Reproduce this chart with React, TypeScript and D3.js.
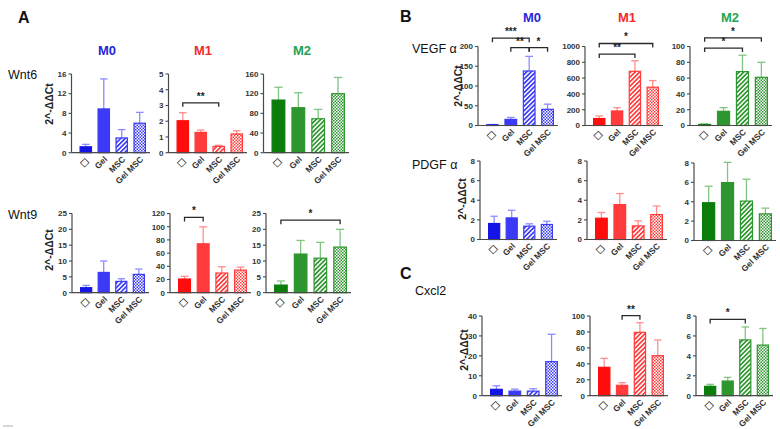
import React from "react";
import * as d3 from "d3";

const categories = ["□", "Gel", "MSC", "Gel MSC"];
const groupNames = ["M0", "M1", "M2"];

// Wnt6
const wnt6M0 = [1.2, 8.9, 3.0, 6.0];
const wnt6M0Err = [1.7, 15.0, 4.7, 8.2];
const wnt6M0Ticks = [0, 4, 8, 12, 16];
const wnt6M1 = [2.03, 1.29, 0.4, 1.19];
const wnt6M1Err = [2.54, 1.44, 0.47, 1.4];
const wnt6M1Ticks = [0, 1, 2, 3, 4, 5];
const wnt6M2 = [107, 91.5, 69, 120];
const wnt6M2Err = [133, 122, 88, 153];
const wnt6M2Ticks = [0, 40, 80, 120, 160];

// Wnt9
const wnt9M0 = [1.58, 6.4, 3.57, 5.78];
const wnt9M0Err = [2.3, 10.0, 4.4, 7.46];
const wnt9M0Ticks = [0, 5, 10, 15, 20, 25];
const wnt9M1 = [20.7, 74.1, 29.8, 34.3];
const wnt9M1Err = [24.7, 99.8, 39.3, 38.8];
const wnt9M1Ticks = [0, 20, 40, 60, 80, 100, 120];
const wnt9M2 = [2.4, 12.2, 10.9, 14.4];
const wnt9M2Err = [3.7, 16.5, 15.9, 20.0];
const wnt9M2Ticks = [0, 5, 10, 15, 20, 25];

// VEGF alpha
const vegfM0 = [1.7, 15.4, 138, 41];
const vegfM0Err = [2.5, 20.5, 175, 54];
const vegfM0Ticks = [0, 50, 100, 150, 200];
const vegfM1 = [88, 184, 686, 485];
const vegfM1Err = [121, 226, 820, 569];
const vegfM1Ticks = [0, 200, 400, 600, 800, 1000];
const vegfM2 = [1.3, 18, 68.2, 61];
const vegfM2Err = [2, 22.6, 89, 80];
const vegfM2Ticks = [0, 20, 40, 60, 80, 100];

// PDGF alpha
const pdgfM0 = [1.63, 2.2, 1.36, 1.53];
const pdgfM0Err = [2.37, 2.98, 1.6, 1.86];
const pdgfM1 = [2.17, 3.56, 1.39, 2.54];
const pdgfM1Err = [2.75, 4.68, 1.9, 3.42];
const pdgfM2 = [3.9, 5.98, 4.07, 2.75];
const pdgfM2Err = [5.6, 8.07, 6.33, 3.34];
const pdgfTicks = [0, 2, 4, 6, 8];

// Cxcl2
const cxcl2M0 = [3.2, 2.3, 2.3, 17.1];
const cxcl2M0Err = [5.0, 3.3, 3.5, 30.8];
const cxcl2M0Ticks = [0, 10, 20, 30, 40];
const cxcl2M1 = [35.6, 13, 79.5, 50.2];
const cxcl2M1Err = [46.9, 16.3, 91.6, 69.9];
const cxcl2M1Ticks = [0, 20, 40, 60, 80, 100];
const cxcl2M2 = [0.94, 1.47, 5.6, 5.08];
const cxcl2M2Err = [1.14, 1.84, 6.9, 6.75];
const cxcl2M2Ticks = [0, 2, 4, 6, 8];

// significance brackets: [fromIndex, toIndex, yValue, label]
const wnt6M1Sig: [number, number, number, string][] = [[0, 2, 3.17, "**"]];
const wnt9M1Sig: [number, number, number, string][] = [[0, 1, 114, "*"]];
const wnt9M2Sig: [number, number, number, string][] = [[0, 3, 22.9, "*"]];
const vegfM0Sig: [number, number, number, string][] = [
  [0, 2, 221, "***"],
  [1, 2, 197, "**"],
  [2, 3, 197, "*"],
];
const vegfM1Sig: [number, number, number, string][] = [
  [0, 3, 1038, "*"],
  [0, 2, 904, "**"],
];
const vegfM2Sig: [number, number, number, string][] = [
  [0, 3, 111, "*"],
  [0, 2, 98, "*"],
];
const cxcl2M1Sig: [number, number, number, string][] = [[1, 2, 100.4, "**"]];
const cxcl2M2Sig: [number, number, number, string][] = [[0, 2, 7.66, "*"]];

const palette: Record<string, { solid: string; light: string; err: string; title: string }> = {
  M0: { solid: "#1414e6", light: "#3b3bf7", err: "#8c8cff", title: "#2626d9" },
  M1: { solid: "#ff0d0d", light: "#ff3b3b", err: "#ff8f8f", title: "#f52a2a" },
  M2: { solid: "#0b7d0b", light: "#2e962e", err: "#82c482", title: "#22a552" },
};

type Panel = {
  key: string;
  group: string;
  values: number[];
  errs: number[];
  ticks: number[];
  sig: [number, number, number, string][];
  x0: number;
  x1: number;
  yTop: number;
  yBot: number;
};

const panels: Panel[] = [
  { key: "w6m0", group: "M0", values: wnt6M0, errs: wnt6M0Err, ticks: wnt6M0Ticks, sig: [], x0: 71.5, x1: 150, yTop: 74, yBot: 152.7 },
  { key: "w6m1", group: "M1", values: wnt6M1, errs: wnt6M1Err, ticks: wnt6M1Ticks, sig: wnt6M1Sig, x0: 168.5, x1: 247, yTop: 74, yBot: 152.7 },
  { key: "w6m2", group: "M2", values: wnt6M2, errs: wnt6M2Err, ticks: wnt6M2Ticks, sig: [], x0: 263.5, x1: 349, yTop: 74, yBot: 152.7 },
  { key: "w9m0", group: "M0", values: wnt9M0, errs: wnt9M0Err, ticks: wnt9M0Ticks, sig: [], x0: 72, x1: 149, yTop: 213.5, yBot: 292.7 },
  { key: "w9m1", group: "M1", values: wnt9M1, errs: wnt9M1Err, ticks: wnt9M1Ticks, sig: wnt9M1Sig, x0: 170, x1: 251, yTop: 213.5, yBot: 292.7 },
  { key: "w9m2", group: "M2", values: wnt9M2, errs: wnt9M2Err, ticks: wnt9M2Ticks, sig: wnt9M2Sig, x0: 266, x1: 351, yTop: 213.5, yBot: 292.7 },
  { key: "vm0", group: "M0", values: vegfM0, errs: vegfM0Err, ticks: vegfM0Ticks, sig: vegfM0Sig, x0: 478, x1: 558, yTop: 46.5, yBot: 125.5 },
  { key: "vm1", group: "M1", values: vegfM1, errs: vegfM1Err, ticks: vegfM1Ticks, sig: vegfM1Sig, x0: 585, x1: 663, yTop: 46.5, yBot: 125.5 },
  { key: "vm2", group: "M2", values: vegfM2, errs: vegfM2Err, ticks: vegfM2Ticks, sig: vegfM2Sig, x0: 690, x1: 772, yTop: 46.5, yBot: 125.5 },
  { key: "pm0", group: "M0", values: pdgfM0, errs: pdgfM0Err, ticks: pdgfTicks, sig: [], x0: 480, x1: 557, yTop: 161, yBot: 239.5 },
  { key: "pm1", group: "M1", values: pdgfM1, errs: pdgfM1Err, ticks: pdgfTicks, sig: [], x0: 587, x1: 667, yTop: 161, yBot: 239.5 },
  { key: "pm2", group: "M2", values: pdgfM2, errs: pdgfM2Err, ticks: pdgfTicks, sig: [], x0: 694, x1: 776, yTop: 163, yBot: 240.5 },
  { key: "cm0", group: "M0", values: cxcl2M0, errs: cxcl2M0Err, ticks: cxcl2M0Ticks, sig: [], x0: 482, x1: 562, yTop: 316, yBot: 395.7 },
  { key: "cm1", group: "M1", values: cxcl2M1, errs: cxcl2M1Err, ticks: cxcl2M1Ticks, sig: cxcl2M1Sig, x0: 590, x1: 668, yTop: 316, yBot: 395.7 },
  { key: "cm2", group: "M2", values: cxcl2M2, errs: cxcl2M2Err, ticks: cxcl2M2Ticks, sig: cxcl2M2Sig, x0: 696, x1: 773, yTop: 316, yBot: 395.7 },
];

const FONT = "'Liberation Sans', Arial, sans-serif";
const axisColor = "#4a4a4a";

function fillFor(group: string, i: number) {
  const c = palette[group];
  if (i === 0) return c.solid;
  if (i === 1) return c.light;
  if (i === 2) return `url(#hatch-${group})`;
  return `url(#check-${group})`;
}

function PanelView({ p }: { p: Panel }) {
  const c = palette[p.group];
  const x = d3
    .scaleBand<string>()
    .domain(categories)
    .range([p.x0 + 8, p.x1 - 4])
    .paddingInner(0.3)
    .paddingOuter(0);
  const y = d3
    .scaleLinear()
    .domain([0, p.ticks[p.ticks.length - 1]])
    .range([p.yBot, p.yTop]);
  const bw = x.bandwidth();
  return (
    <g>
      {p.values.map((v, i) => {
        const cx = (x(categories[i]) as number) + bw / 2;
        return (
          <g key={"e" + i} stroke={c.err} strokeWidth={1.3}>
            <line x1={cx} x2={cx} y1={y(v)} y2={y(p.errs[i])} />
            <line x1={cx - bw * 0.3} x2={cx + bw * 0.3} y1={y(p.errs[i])} y2={y(p.errs[i])} />
          </g>
        );
      })}
      {p.values.map((v, i) => (
        <rect
          key={"b" + i}
          x={(x(categories[i]) as number) + 0.6}
          y={y(v)}
          width={bw - 1.2}
          height={Math.max(0, p.yBot - y(v))}
          fill={fillFor(p.group, i)}
          stroke={i === 0 ? c.solid : c.light}
          strokeWidth={1.2}
        />
      ))}
      <line x1={p.x0} x2={p.x0} y1={p.yTop} y2={p.yBot} stroke={axisColor} strokeWidth={1.2} />
      {p.ticks.map((t) => (
        <g key={"t" + t}>
          <line x1={p.x0 - 3} x2={p.x0} y1={y(t)} y2={y(t)} stroke={axisColor} strokeWidth={1.1} />
          <text
            x={p.x0 - 5}
            y={y(t)}
            dy="0.35em"
            textAnchor="end"
            fontSize={8}
            fontWeight="bold"
            fill="#333"
            fontFamily={FONT}
          >
            {t}
          </text>
        </g>
      ))}
      <line x1={p.x0} x2={p.x1} y1={p.yBot} y2={p.yBot} stroke={axisColor} strokeWidth={1.2} />
      {categories.map((cat, i) => {
        const cx = (x(cat) as number) + bw / 2;
        if (i === 0) {
          return (
            <text
              key={"x" + cat}
              transform={`translate(${cx - 1},${p.yBot + 10}) rotate(-45)`}
              textAnchor="middle"
              dy="0.38em"
              fontSize={8}
              fill="#333"
              stroke="#333"
              strokeWidth={0.3}
              fontFamily="'Noto Sans CJK SC', 'DejaVu Sans', sans-serif"
            >
              {cat}
            </text>
          );
        }
        return (
          <text
            key={"x" + cat}
            transform={`translate(${cx + 2},${p.yBot + 5}) rotate(-45)`}
            textAnchor="end"
            dy="0.35em"
            fontSize={8.5}
            fontWeight="bold"
            fill="#333"
            fontFamily={FONT}
          >
            {cat}
          </text>
        );
      })}
      {p.sig.map(([a, b, v, lab], k) => {
        const xa = (x(categories[a]) as number) + bw / 2;
        const xb = (x(categories[b]) as number) + bw / 2;
        const yy = y(v);
        return (
          <g key={"s" + k}>
            <path
              d={`M${xa},${yy + 4}V${yy}H${xb}V${yy + 4}`}
              fill="none"
              stroke="#2a2a2a"
              strokeWidth={1.3}
            />
            <text
              x={(xa + xb) / 2}
              y={yy - 3}
              textAnchor="middle"
              fontSize={10}
              fontWeight="bold"
              fill="#222"
              fontFamily={FONT}
            >
              {lab}
            </text>
          </g>
        );
      })}
    </g>
  );
}

const rowLabels = [
  { text: "Wnt6", x: 8, y: 79 },
  { text: "Wnt9", x: 8, y: 219 },
  { text: "VEGF α", x: 412, y: 53 },
  { text: "PDGF α", x: 412, y: 169 },
  { text: "Cxcl2", x: 415, y: 295 },
];

const yLabels = [
  { x: 53, y: 104 },
  { x: 53, y: 250 },
  { x: 462, y: 86 },
  { x: 466, y: 199 },
  { x: 468, y: 350 },
];

const colTitles = [
  { cx: [107, 203, 302], y: 55 },
  { cx: [532, 627, 730], y: 22 },
];

export default function App() {
  return (
    <svg
      width={780}
      height={429}
      style={{ position: "absolute", left: 0, top: 0, background: "#fff" }}
    >
      <defs>
        {groupNames.map((g) => (
          <React.Fragment key={g}>
            <pattern
              id={`hatch-${g}`}
              patternUnits="userSpaceOnUse"
              width={3.2}
              height={3.2}
              patternTransform="rotate(45)"
            >
              <rect width={3.2} height={3.2} fill="#fff" />
              <rect width={1.7} height={3.2} fill={palette[g].light} />
            </pattern>
            <pattern id={`check-${g}`} patternUnits="userSpaceOnUse" width={3} height={3}>
              <rect width={3} height={3} fill="#fff" />
              <rect width={1.5} height={1.5} fill={palette[g].light} />
              <rect x={1.5} y={1.5} width={1.5} height={1.5} fill={palette[g].light} />
            </pattern>
          </React.Fragment>
        ))}
      </defs>
      <rect width={780} height={429} fill="#fff" />

      <text x={18} y={23} fontSize={16} fontWeight="bold" fontFamily={FONT} fill="#111">A</text>
      <text x={400} y={22} fontSize={16} fontWeight="bold" fontFamily={FONT} fill="#111">B</text>
      <text x={400} y={279} fontSize={16} fontWeight="bold" fontFamily={FONT} fill="#111">C</text>

      {colTitles.map((row, r) =>
        row.cx.map((cx, i) => (
          <text
            key={`ct${r}${i}`}
            x={cx}
            y={row.y}
            textAnchor="middle"
            fontSize={13}
            fontWeight="bold"
            fill={palette[groupNames[i]].title}
            fontFamily={FONT}
          >
            {groupNames[i]}
          </text>
        ))
      )}

      {rowLabels.map((l) => (
        <text key={l.text} x={l.x} y={l.y} fontSize={12.5} fill="#111" fontFamily={FONT}>
          {l.text}
        </text>
      ))}

      {yLabels.map((l, i) => (
        <text
          key={"yl" + i}
          transform={`translate(${l.x},${l.y}) rotate(-90)`}
          textAnchor="middle"
          fontSize={10.5}
          fontWeight="bold"
          fill="#222"
          fontFamily={FONT}
        >
          2^-ΔΔCt
        </text>
      ))}

      {panels.map((p) => (
        <PanelView key={p.key} p={p} />
      ))}

      <line x1={3} x2={13} y1={426} y2={426} stroke="#b0b0b0" strokeWidth={1} />
    </svg>
  );
}
